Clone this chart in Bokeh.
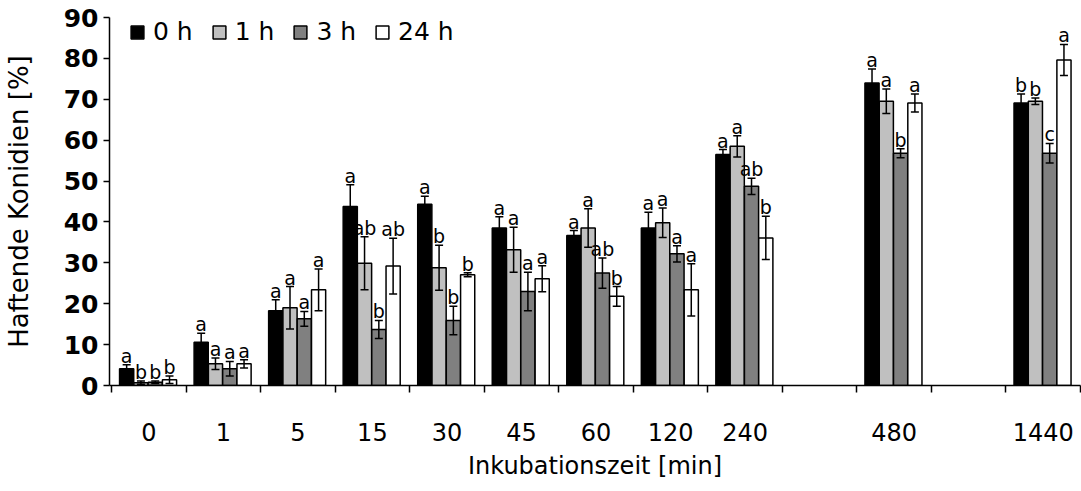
from bokeh.plotting import figure
from bokeh.models import (Range1d, FixedTicker, ColumnDataSource, Title,
                          Whisker, TeeHead, Legend, LegendItem)
from bokeh.embed import file_html
from bokeh.resources import INLINE
from bokeh.core.properties import value

# ---------------- data ----------------
categories = ["0", "1", "5", "15", "30", "45", "60", "120", "240", "", "480", "", "1440"]
series = ["0 h", "1 h", "3 h", "24 h"]

mean_0h = [4.1, 10.6, 18.3, 43.8, 44.3, 38.5, 36.7, 38.5, 56.5, None, 74.0, None, 69.1]
mean_1h = [0.7, 5.3, 19.0, 29.9, 28.8, 33.2, 38.5, 39.8, 58.5, None, 69.5, None, 69.5]
mean_3h = [0.8, 4.1, 16.3, 13.7, 15.9, 23.0, 27.5, 32.2, 48.7, None, 56.8, None, 56.8]
mean_24h = [1.4, 5.3, 23.4, 29.2, 27.1, 26.1, 21.8, 23.4, 36.1, None, 69.1, None, 79.6]

err_0h = [1.0, 2.2, 2.7, 5.3, 2.0, 2.8, 1.2, 3.9, 1.2, None, 3.4, None, 2.2]
err_1h = [0.4, 1.4, 5.2, 6.5, 5.5, 5.5, 4.7, 3.6, 2.6, None, 3.0, None, 0.8]
err_3h = [0.3, 1.8, 1.8, 2.2, 3.5, 4.7, 3.7, 2.0, 2.0, None, 1.1, None, 2.4]
err_24h = [0.9, 1.0, 5.1, 6.8, 0.5, 3.2, 2.4, 6.4, 5.3, None, 2.2, None, 3.8]

sig_0h = ["a", "a", "a", "a", "a", "a", "a", "a", "a", None, "a", None, "b"]
sig_1h = ["b", "a", "a", "ab", "b", "a", "a", "a", "a", None, "a", None, "b"]
sig_3h = ["b", "a", "a", "b", "b", "a", "ab", "a", "ab", None, "b", None, "c"]
sig_24h = ["b", "a", "a", "ab", "b", "a", "b", "a", "b", None, "a", None, "a"]

means = [mean_0h, mean_1h, mean_3h, mean_24h]
errs = [err_0h, err_1h, err_3h, err_24h]
sigs = [sig_0h, sig_1h, sig_3h, sig_24h]
colors = ["#000000", "#C0C0C0", "#808080", "#FFFFFF"]

x_title = "Inkubationszeit [min]"
y_title = "Haftende Konidien [%]"

# ---------------- layout constants ----------------
FONT = "DejaVu Sans"
BAR_W = 0.19
GROUP_START = 0.203
BAR_STEP = 0.1917

p = figure(width=1081, height=491, output_backend="svg", toolbar_location=None,
           x_range=Range1d(-0.027, 13.0), y_range=Range1d(0, 90),
           min_border_left=108, min_border_right=1, min_border_top=17,
           min_border_bottom=106, outline_line_color=None,
           background_fill_color="white", border_fill_color="white")
p.grid.visible = False

renderers = []
for k in range(4):
    xs, tops, ups, los, labs = [], [], [], [], []
    for i, cat in enumerate(categories):
        m = means[k][i]
        if m is None:
            continue
        e = errs[k][i]
        xs.append(i + GROUP_START + k * BAR_STEP)
        tops.append(m)
        ups.append(m + e)
        los.append(max(m - e, 0))
        labs.append(sigs[k][i])
    src = ColumnDataSource(dict(x=xs, top=tops, upper=ups, lower=los, lab=labs))
    r = p.vbar(x="x", top="top", bottom=0, width=BAR_W, source=src,
               fill_color=colors[k], line_color="black", line_width=1.5)
    renderers.append(r)
    w = Whisker(base="x", upper="upper", lower="lower", source=src,
                line_color="black", line_width=1.5, level="overlay",
                upper_head=TeeHead(size=8, line_color="black", line_width=1.5),
                lower_head=TeeHead(size=8, line_color="black", line_width=1.5))
    p.add_layout(w)
    p.text(x="x", y="upper", text="lab", source=src, text_align="center",
           text_baseline="alphabetic", y_offset=-9,
           text_font=value(FONT), text_font_size="19px", text_color="black")

# ---------------- y axis ----------------
ya = p.yaxis[0]
ya.ticker = FixedTicker(ticks=list(range(0, 91, 10)))
ya.major_tick_out = 6
ya.major_tick_in = 0
ya.minor_tick_line_color = None
ya.axis_line_width = 1.5
ya.major_tick_line_width = 1.5
ya.major_label_text_font = FONT
ya.major_label_text_font_style = "bold"
ya.major_label_text_font_size = "25px"
ya.major_label_text_color = "black"
ya.major_label_standoff = 5
ya.axis_label = y_title
ya.axis_label_text_font = FONT
ya.axis_label_text_font_style = "normal"
ya.axis_label_text_font_size = "26px"
ya.axis_label_text_color = "black"
ya.axis_label_standoff = 27

# ---------------- x axis: labels at centres, separators as minor ticks ----------------
label_ticks = [i + 0.5 for i, c in enumerate(categories) if c]
xa = p.xaxis[0]
xa.ticker = FixedTicker(ticks=label_ticks,
                        minor_ticks=list(range(0, len(categories) + 1)))
xa.major_label_overrides = {i + 0.5: c for i, c in enumerate(categories) if c}
xa.major_tick_line_color = None
xa.major_tick_out = 0
xa.major_tick_in = 0
xa.minor_tick_out = 7
xa.minor_tick_in = 0
xa.minor_tick_line_color = "black"
xa.minor_tick_line_width = 1.5
xa.axis_line_width = 1.5
xa.major_label_text_font = FONT
xa.major_label_text_font_size = "24px"
xa.major_label_text_color = "black"
xa.major_label_standoff = 30

p.add_layout(Title(text=x_title, align="center", standoff=13,
                   text_font=FONT, text_font_size="24px",
                   text_font_style="normal", text_color="black"), "below")

# ---------------- legend ----------------
legend = Legend(items=[LegendItem(label=s, renderers=[r]) for s, r in zip(series, renderers)],
                orientation="horizontal", location=(20, 339),
                glyph_width=16, glyph_height=16, label_standoff=8, spacing=18,
                padding=0, margin=0, border_line_color=None,
                background_fill_alpha=0,
                label_text_font=FONT, label_text_font_size="25px",
                label_text_color="black")
p.add_layout(legend)

open("out.html", "w").write(file_html(p, INLINE))
